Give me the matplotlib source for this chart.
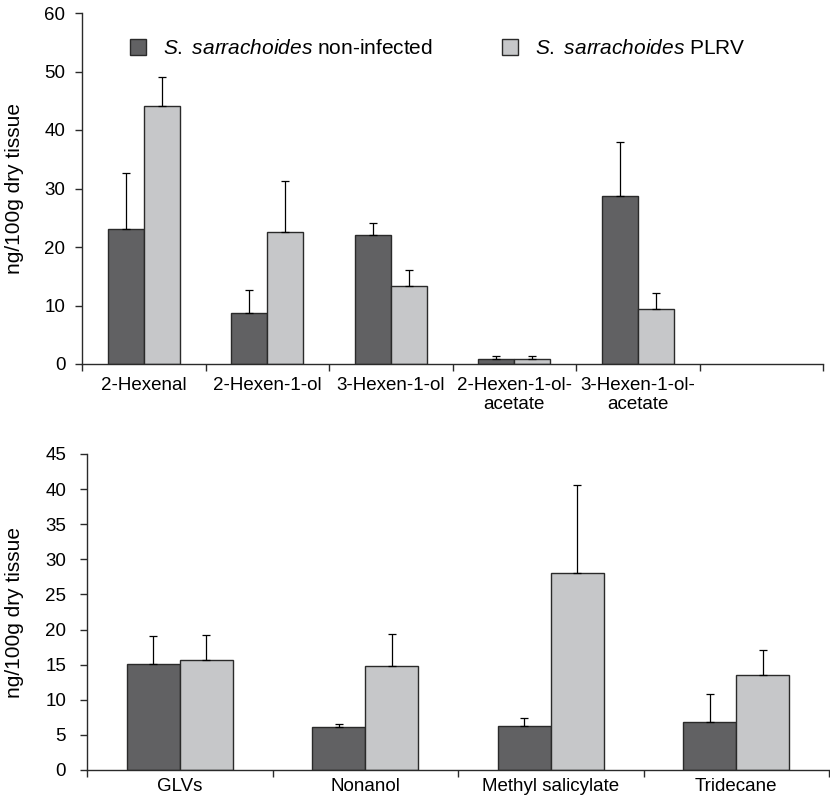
"""Volatile emissions of S. sarrachoides, non-infected vs PLRV infected."""
import matplotlib

matplotlib.use("Agg")
import matplotlib.pyplot as plt
import numpy as np
from matplotlib.patches import Patch

plt.rcParams["font.family"] = ["Liberation Sans", "DejaVu Sans"]
plt.rcParams["mathtext.fontset"] = "custom"
plt.rcParams["mathtext.it"] = "Liberation Sans:italic"
plt.rcParams["mathtext.rm"] = "Liberation Sans"

DARK = "#616163"
LIGHT = "#c6c7c9"
EDGE = "#2a2a2a"

# top panel: green leaf volatiles
top_labels = ["2-Hexenal", "2-Hexen-1-ol", "3-Hexen-1-ol",
              "2-Hexen-1-ol-\nacetate", "3-Hexen-1-ol-\nacetate"]
top_healthy = [23.0, 8.7, 22.1, 0.8, 28.7]
top_healthy_err = [9.6, 4.0, 2.0, 0.55, 9.2]
top_plrv = [44.1, 22.6, 13.4, 0.8, 9.4]
top_plrv_err = [4.9, 8.7, 2.7, 0.55, 2.7]

# bottom panel: volatile classes
bot_labels = ["GLVs", "Nonanol", "Methyl salicylate", "Tridecane"]
bot_healthy = [15.1, 6.1, 6.3, 6.8]
bot_healthy_err = [4.0, 0.45, 1.1, 4.0]
bot_plrv = [15.6, 14.8, 28.0, 13.5]
bot_plrv_err = [3.6, 4.5, 12.6, 3.6]


def draw_panel(ax, labels, healthy, healthy_err, plrv, plrv_err, n_slots,
               ymax, ystep, width, ypad, xpad):
    x = np.arange(len(labels))
    err_kw = dict(ecolor="black", elinewidth=0.9, capsize=3, capthick=0.9)
    ax.bar(x - width / 2, healthy, width, color=DARK, edgecolor=EDGE, linewidth=1.0,
           yerr=[np.zeros(len(x)), healthy_err], error_kw=err_kw, zorder=2)
    ax.bar(x + width / 2, plrv, width, color=LIGHT, edgecolor=EDGE, linewidth=1.0,
           yerr=[np.zeros(len(x)), plrv_err], error_kw=err_kw, zorder=2)

    ax.set_xlim(-0.5, n_slots - 0.5)
    ax.set_ylim(0, ymax)
    ax.set_yticks(np.arange(0, ymax + 0.1, ystep))
    ax.set_xticks(x)
    ax.set_xticklabels(labels, fontsize=13.5)
    ax.set_xticks(np.arange(-0.5, n_slots, 1.0), minor=True)
    ax.tick_params(axis="x", which="major", length=0, pad=xpad)
    ax.tick_params(axis="x", which="minor", length=5, width=1.0, color=EDGE, direction="out")
    ax.tick_params(axis="y", length=5, width=1.0, color=EDGE, direction="out",
                   labelsize=13.5, pad=ypad)

    for side in ["top", "right"]:
        ax.spines[side].set_visible(False)
    for side in ["left", "bottom"]:
        ax.spines[side].set_color(EDGE)
        ax.spines[side].set_linewidth(1.0)

    ax.set_ylabel("ng/100g dry tissue", fontsize=15)


fig = plt.figure(figsize=(8.3, 7.99), dpi=100)

ax1 = fig.add_axes([82 / 830, 1 - 364 / 799, 741 / 830, 351 / 799])
draw_panel(ax1, top_labels, top_healthy, top_healthy_err, top_plrv, top_plrv_err,
           n_slots=6, ymax=60, ystep=10, width=0.29, ypad=7, xpad=9)
ax1.yaxis.set_label_coords(-58 / 741, 0.5)

ax2 = fig.add_axes([87 / 830, 1 - 770 / 799, 742 / 830, 316 / 799])
draw_panel(ax2, bot_labels, bot_healthy, bot_healthy_err, bot_plrv, bot_plrv_err,
           n_slots=4, ymax=45, ystep=5, width=0.285, ypad=10, xpad=6)
ax2.yaxis.set_label_coords(-63 / 742, 0.5)

handles = [Patch(facecolor=DARK, edgecolor=EDGE, linewidth=1.0),
           Patch(facecolor=LIGHT, edgecolor=EDGE, linewidth=1.0)]
ax1.legend(handles,
           [r"$\it{S.\ sarrachoides}$ non-infected", r"$\it{S.\ sarrachoides}$ PLRV"],
           ncol=2, frameon=False, fontsize=15, loc="upper left",
           bbox_to_anchor=(29 / 741, 0.98), handlelength=0.8, handleheight=0.8,
           handletextpad=0.8, columnspacing=3.3)

fig.savefig("out.png", dpi=100)
